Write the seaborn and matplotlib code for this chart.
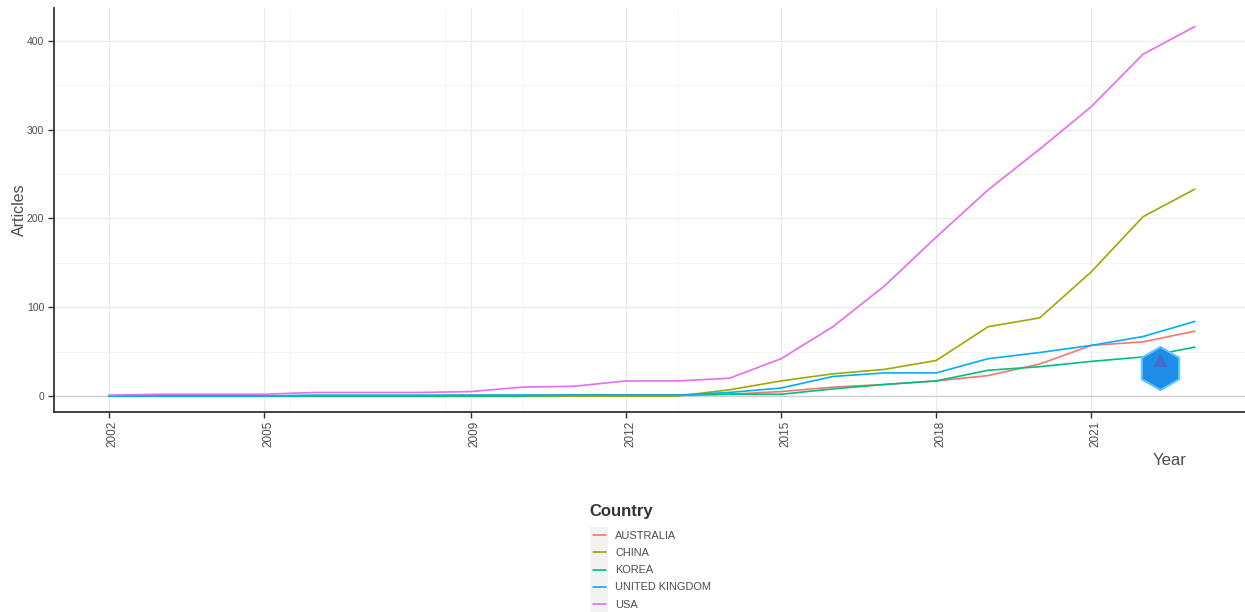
import numpy as np
import pandas as pd
import matplotlib

matplotlib.use("Agg")
import matplotlib.pyplot as plt
import matplotlib.patches as mpatches
import matplotlib.transforms as mtransforms
import seaborn as sns

years = list(range(2002, 2024))
countries = ["AUSTRALIA", "CHINA", "KOREA", "UNITED KINGDOM", "USA"]

australia = [0, 0, 0, 0, 0, 0, 0, 1, 1, 1, 1, 1, 2, 5, 10, 13, 17, 23, 36, 57, 61, 73]
china = [0, 0, 0, 0, 0, 0, 0, 0, 0, 0, 0, 0, 7, 17, 25, 30, 40, 78, 88, 140, 202, 233]
korea = [0, 0, 0, 0, 0, 0, 0, 0, 0, 1, 1, 1, 2, 2, 8, 13, 17, 29, 33, 39, 44, 55]
uk = [0, 0, 0, 0, 1, 1, 1, 1, 1, 1, 1, 1, 4, 9, 22, 26, 26, 42, 49, 57, 67, 84]
usa = [1, 2, 2, 2, 4, 4, 4, 5, 10, 11, 17, 17, 20, 42, 78, 124, 179, 232, 278, 326, 385, 416]

x_breaks = [2002, 2005, 2009, 2012, 2015, 2018, 2021]
x_minor = [2005.5, 2008.5, 2010, 2013]
y_breaks = [0, 100, 200, 300, 400]
y_minor = [50, 150, 250, 350]

colors = ["#F8766D", "#A3A500", "#00BF7D", "#00B0F6", "#E76BF3"]

df = pd.concat(
    [
        pd.DataFrame({"Year": years, "Articles": vals, "Country": name})
        for name, vals in zip(countries, [australia, china, korea, uk, usa])
    ],
    ignore_index=True,
)

sns.set_theme(style="white")
plt.rcParams["font.family"] = ["Liberation Sans", "DejaVu Sans"]

fig = plt.figure(figsize=(12.45, 6.12), dpi=100)
ax = fig.add_axes([0.0434, 0.3268, 0.9566, 0.6602])

# grid first so lines sit on top
for v in x_minor:
    ax.axvline(v, color="#F4F4F4", lw=0.6, zorder=0)
for v in y_minor:
    ax.axhline(v, color="#F4F4F4", lw=0.6, zorder=0)
for v in x_breaks:
    ax.axvline(v, color="#EBEBEB", lw=0.9, zorder=0)
for v in y_breaks:
    ax.axhline(v, color="#EBEBEB", lw=0.9, zorder=0)
ax.axhline(0, color="#CFCFCF", lw=1.0, zorder=0.5)

sns.lineplot(
    data=df,
    x="Year",
    y="Articles",
    hue="Country",
    hue_order=countries,
    palette=dict(zip(countries, colors)),
    linewidth=1.2,
    ax=ax,
)

ax.set_xlim(2000.94, 2023.97)
ax.set_ylim(-18, 437)
ax.set_xticks(x_breaks)
ax.set_xticklabels([str(y) for y in x_breaks], rotation=90)
ax.set_yticks(y_breaks)

for side in ["top", "right"]:
    ax.spines[side].set_visible(False)
for side in ["left", "bottom"]:
    ax.spines[side].set_color("#333333")
    ax.spines[side].set_linewidth(1.3)

ax.tick_params(axis="both", which="major", length=4, width=1, color="#333333",
               colors="#4D4D4D", bottom=True, left=True)
ax.tick_params(axis="x", labelsize=8.5, pad=2)
ax.tick_params(axis="y", labelsize=7.5, pad=3)
for lab in ax.get_xticklabels() + ax.get_yticklabels():
    lab.set_color("#4D4D4D")

# ggplot puts the rotated year labels a bit right of the tick
shift = mtransforms.ScaledTranslation(4 / 100, 0, fig.dpi_scale_trans)
for lab in ax.get_xticklabels():
    lab.set_transform(lab.get_transform() + shift)

ax.set_xlabel("")
ax.set_ylabel("Articles", fontsize=11.5, color="#4D4D4D")
ax.yaxis.set_label_coords(-0.023, 0.5)
fig.text(0.9398, 0.248, "Year", fontsize=12, color="#4D4D4D", ha="center", va="center")

# bibliometrix badge
ax.plot([0.929], [0.109], marker="h", markersize=31, color="#1E8DE8",
        markeredgecolor="#5BC8F5", markeredgewidth=1.5, transform=ax.transAxes,
        zorder=5, clip_on=False)
ax.plot([0.929], [0.128], marker="^", markersize=9, color="#3F6FC8",
        transform=ax.transAxes, zorder=6, clip_on=False)

handles, labels = ax.get_legend_handles_labels()
ax.get_legend().remove()

leg = fig.legend(
    handles,
    labels,
    title="Country",
    loc="upper left",
    bbox_to_anchor=(0.4695, 0.183),
    frameon=False,
    fontsize=7.9,
    title_fontproperties={"weight": "bold", "size": 12},
    handlelength=1.15,
    handletextpad=0.85,
    labelspacing=0.645,
    borderaxespad=0,
)
leg._legend_box.align = "left"
leg._legend_box.sep = 5.5
leg._legend_handle_box.pad = 3
for t in leg.get_texts():
    t.set_color("#4D4D4D")
leg.get_title().set_color("#333333")

# grey key background like ggplot
fig.canvas.draw()
inv = fig.transFigure.inverted()
boxes = [h.get_window_extent() for h in leg.legend_handles]
x0 = min(b.x0 for b in boxes) - 3
x1 = max(b.x1 for b in boxes) + 2
y0 = min(b.y0 for b in boxes) - 8
y1 = max(b.y1 for b in boxes) + 8
(fx0, fy0), (fx1, fy1) = inv.transform([(x0, y0), (x1, y1)])
fig.patches.append(
    mpatches.Rectangle((fx0, fy0), fx1 - fx0, fy1 - fy0,
                       transform=fig.transFigure, facecolor="#F2F2F2",
                       edgecolor="none", zorder=0)
)

fig.savefig("out.png", dpi=100)
